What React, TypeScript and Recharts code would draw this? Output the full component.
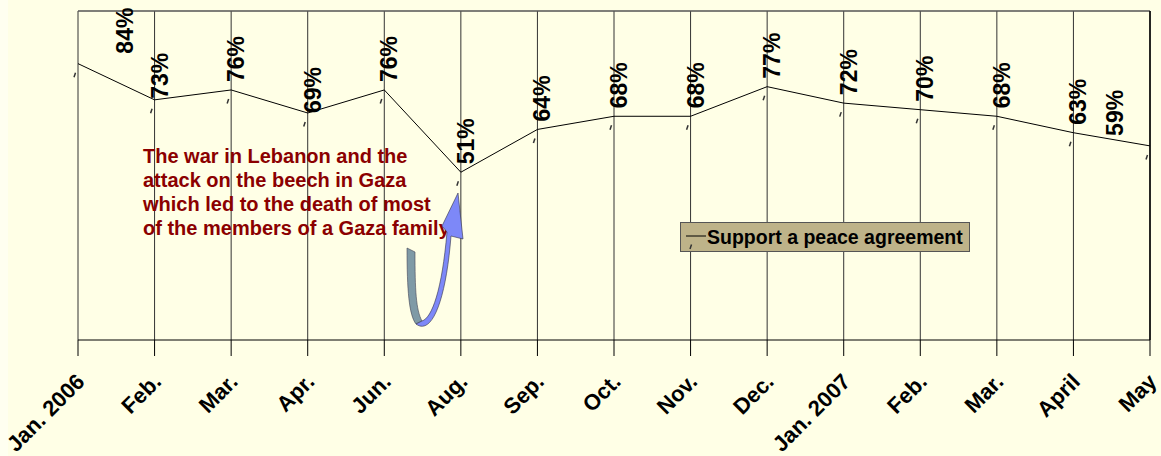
import React from 'react';
import { LineChart, Line, XAxis, YAxis, CartesianGrid, ReferenceLine, LabelList, Legend, Customized } from 'recharts';

const categories = ['Jan. 2006', 'Feb.', 'Mar.', 'Apr.', 'Jun.', 'Aug.', 'Sep.', 'Oct.', 'Nov.', 'Dec.', 'Jan. 2007', 'Feb.', 'Mar.', 'April', 'May'];
const support = [84, 73, 76, 69, 76, 51, 64, 68, 68, 77, 72, 70, 68, 63, 59];
const seriesName = 'Support a peace agreement';
const noteLines = [
  'The war in Lebanon and the',
  'attack on the beech in Gaza',
  'which led to the death of most',
  'of the members of a Gaza family',
];

const data = categories.map((c, i) => ({ key: `k${i}`, cat: c, value: support[i] }));

const FONT = '"Liberation Sans", Arial, sans-serif';

const Tick = (props: any) => {
  const { x, y, index } = props;
  const ax = x + 8;
  const ay = y + 25;
  return (
    <text x={ax} y={ay} textAnchor="end" transform={`rotate(-45, ${ax}, ${ay})`}
      fontFamily={FONT} fontWeight="bold" fontSize={22} fill="#000">
      {categories[index]}
    </text>
  );
};

const Dot = (props: any) => {
  const { cx, cy, index } = props;
  if (cx == null || cy == null) return null;
  return <line key={`d${index}`} x1={cx - 4} y1={cy + 13.5} x2={cx - 2.5} y2={cy + 9} stroke="#333" strokeWidth={1.5} />;
};

const ValueLabel = (props: any) => {
  const { x, y, value, index } = props;
  let dx = 13;
  let dy = -8;
  if (index === 0) { dx = 55; dy = -10; }
  if (index === 1) { dy = -1; }
  if (index === 3) { dy = 0; }
  if (index === support.length - 1) { dx = -27; dy = -10; }
  const bx = x + dx;
  const by = y + dy;
  return (
    <text x={bx} y={by} textAnchor="start" transform={`rotate(-90, ${bx}, ${by})`}
      fontFamily={FONT} fontWeight="bold" fontSize={23} fill="#000">
      {`${value}%`}
    </text>
  );
};

const LegendBox = () => (
  <div style={{
    width: 290, height: 30, boxSizing: 'border-box', background: '#BEB389',
    border: '1px solid #555', position: 'relative', fontFamily: FONT,
  }}>
    <svg width={290} height={30} style={{ position: 'absolute', left: 0, top: 0 }}>
      <line x1={5} y1={13} x2={25} y2={13} stroke="#000" strokeWidth={1} />
      <line x1={9} y1={26} x2={10.5} y2={21.5} stroke="#333" strokeWidth={1.5} />
      <text x={26} y={21} fontFamily={FONT} fontWeight="bold" fontSize={19.5} fill="#000">{seriesName}</text>
    </svg>
  </div>
);

const Annotation = () => (
  <g>
    {noteLines.map((t, i) => (
      <text key={i} x={135} y={163 + i * 24} fontFamily={FONT} fontWeight="bold" fontSize={20} fill="#8B0000">{t}</text>
    ))}
    <path d="M 399 248 L 407 252 C 407 290, 408 310, 414 321 L 408 324 C 401 315, 399 290, 399 248 Z"
      fill="#7F9AA6" stroke="#445" strokeWidth={0.6} />
    <path d="M 408 324 C 424 336, 438 300, 443 236 L 455 239 L 450 193 L 434 226 L 439 232 C 434 290, 424 318, 414 321 Z"
      fill="#7D88F8" stroke="#334" strokeWidth={0.6} />
  </g>
);

export default function App() {
  return (
    <div style={{ position: 'absolute', left: 0, top: 0, width: 1161, height: 456, background: '#FFFFF0' }}>
      <div style={{ position: 'absolute', left: 8, top: 0, width: 1153, height: 456, background: '#FFFFE6' }}>
        <LineChart width={1153} height={456} data={data} margin={{ top: 11, right: 11, bottom: 0, left: 70 }}>
          <CartesianGrid horizontal={false} vertical={true} stroke="#333" strokeWidth={1} />
          <XAxis dataKey="key" height={116} tickSize={16} tick={<Tick />} interval={0}
            axisLine={{ stroke: '#000' }} tickLine={{ stroke: '#000' }} padding={{ left: 0, right: 0 }} />
          <YAxis hide domain={[0, 100]} />
          <ReferenceLine y={100} stroke="#555" strokeWidth={1.5} />
          <ReferenceLine x="k14" stroke="#000" strokeWidth={1.5} />
          <Legend layout="horizontal" verticalAlign="middle" align="center"
            wrapperStyle={{ position: 'absolute', left: 672, top: 222, width: 290, height: 30 }}
            content={() => <LegendBox />} />
          <Line type="linear" dataKey="value" name={seriesName} stroke="#000" strokeWidth={1}
            dot={<Dot />} activeDot={false} isAnimationActive={false}>
            <LabelList dataKey="value" content={<ValueLabel />} />
          </Line>
          <Customized component={Annotation} />
        </LineChart>
      </div>
    </div>
  );
}
